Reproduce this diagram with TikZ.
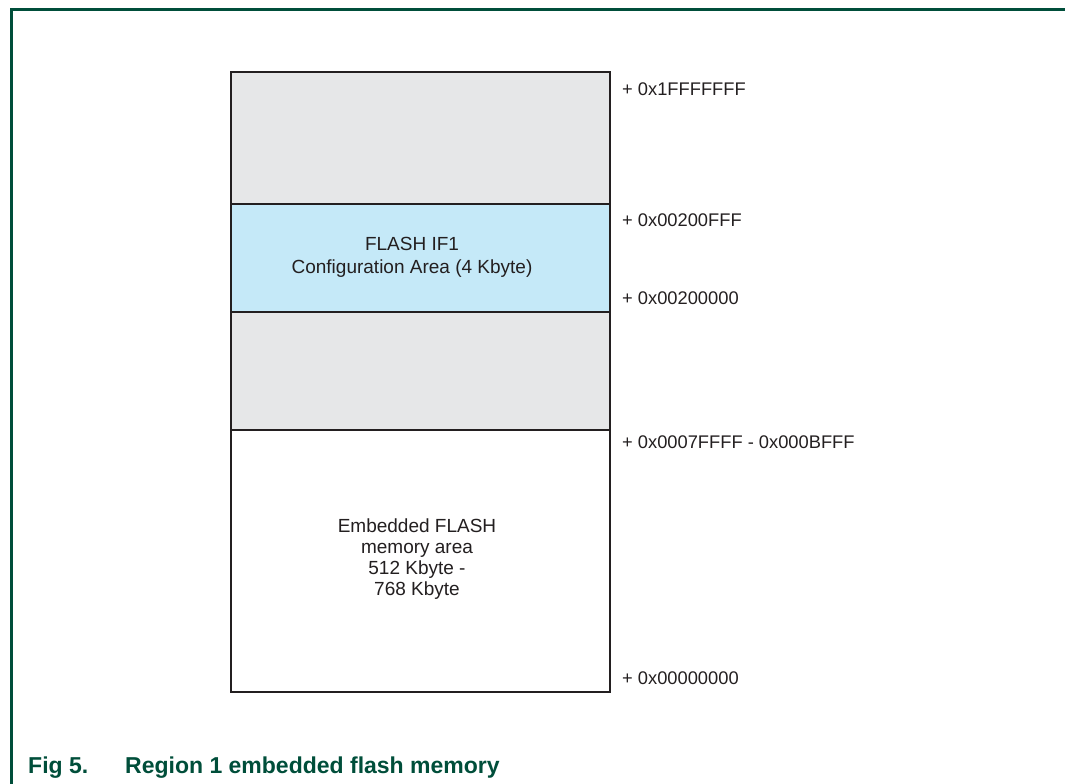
\documentclass[tikz,border=0pt]{standalone}
\usepackage{fontspec}
\setmainfont{Liberation Sans}
\definecolor{framegreen}{RGB}{0,78,58}
\definecolor{boxline}{RGB}{35,31,32}
\definecolor{regiongrey}{RGB}{230,231,232}
\definecolor{regionblue}{RGB}{197,233,248}
\definecolor{txt}{RGB}{35,31,32}
\begin{document}
\begin{tikzpicture}[x=1pt,y=-1pt,
  region/.style={draw=boxline, line width=2.2pt, minimum width=379pt, inner sep=0pt, outer sep=0pt},
  boxtext/.style={text=txt, font=\fontsize{19}{22.5}\selectfont, align=center, inner sep=0pt},
  addr/.style={text=txt, font=\fontsize{18.3}{20}\selectfont, anchor=base west, inner sep=0pt},
  caption/.style={text=framegreen, font=\fontsize{23}{26}\selectfont\bfseries, anchor=base west, inner sep=0pt}]
\useasboundingbox (0,0) rectangle (1065,784);
% frame
\draw[framegreen, line width=2.2pt] (1066,9.5) -- (11.5,9.5) -- (11.5,785);
% regions
\node[region, fill=regiongrey, minimum height=132pt] (rtop) at (420.5,138) {};
\node[region, fill=regionblue, minimum height=108pt] (rflash) at (420.5,258) {};
\node[region, fill=regiongrey, minimum height=118pt] (rgap) at (420.5,371) {};
\node[region, fill=white, minimum height=262pt] (remb) at (420.5,561) {};
% region texts
\node[boxtext] (tflash) at (412,257.5) {FLASH IF1\\Configuration Area (4 Kbyte)};
\node[boxtext, font=\fontsize{19}{21}\selectfont] (temb) at (417,559.5) {Embedded FLASH\\memory area\\512 Kbyte -\\768 Kbyte};
% addresses
\node[addr] (a1) at (622,95) {+ 0x1FFFFFFF};
\node[addr] (a2) at (622,226) {+ 0x00200FFF};
\node[addr] (a3) at (622,304) {+ 0x00200000};
\node[addr] (a4) at (622,448) {+ 0x0007FFFF - 0x000BFFF};
\node[addr] (a5) at (622,684) {+ 0x00000000};
% caption
\node[caption] (cfig) at (28,773) {Fig 5.};
\node[caption] (ctitle) at (125,773) {Region 1 embedded flash memory};
\end{tikzpicture}
\end{document}
